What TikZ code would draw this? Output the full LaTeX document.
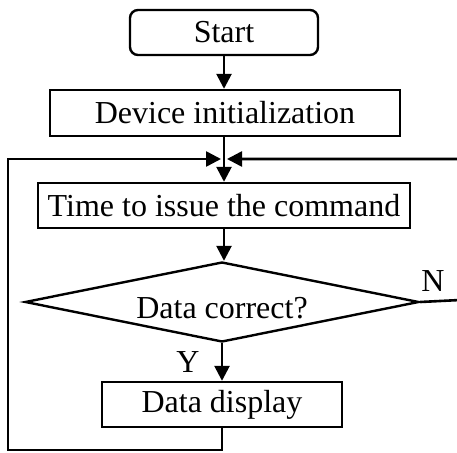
\documentclass[tikz,border=0pt]{standalone}
\usepackage{fontspec}
\setmainfont{Liberation Serif}
\usetikzlibrary{arrows.meta,shapes.geometric}
\begin{document}
\begin{tikzpicture}[x=1pt,y=-1pt,
  every node/.style={font=\fontsize{32}{37}\selectfont, inner sep=0pt},
  box/.style={draw, line width=2.4pt, minimum height=45pt},
  ln/.style={line width=2.6pt},
  arr/.style={ln, -{Triangle[length=15pt,width=15pt]}}]
\useasboundingbox (0,0) rectangle (457,452);
\node[box, rounded corners=8pt, minimum width=188pt] (start) at (224,32.5) {Start};
\node[box, minimum width=350pt, minimum height=46pt] (init) at (225,113) {Device initialization};
\node[box, minimum width=372pt] (time) at (224,205.5) {Time to issue the command};
\node[draw, line width=2.4pt, diamond, minimum width=394pt, minimum height=80pt, aspect=4.9] (dia) at (222,302) {};
\node (dtext) at (222,308) {Data correct?};
\node[box, minimum width=240pt] (disp) at (222,404.5) {Data display};
\node (ylab) at (188,362) {Y};
\node (nlab) at (433,281) {N};
\coordinate (jl) at (221,159);
\coordinate (jr) at (227,159);
\coordinate (bl) at (8,450);
\coordinate (br) at (460,300);
\coordinate (tr) at (460,159);
\draw[arr] (start.south) -- (start.south |- init.north);
\draw[arr] (224,136) -- (time.north);
\draw[arr] (time.south) -- (time.south |- dia.north);
\draw[arr] (dia.south) -- (disp.north);
\draw[arr] (disp.south) |- (bl) |- (jl);
\draw[arr] (dia.east) -- (br) -- (tr) -- (jr);
\end{tikzpicture}
\end{document}
